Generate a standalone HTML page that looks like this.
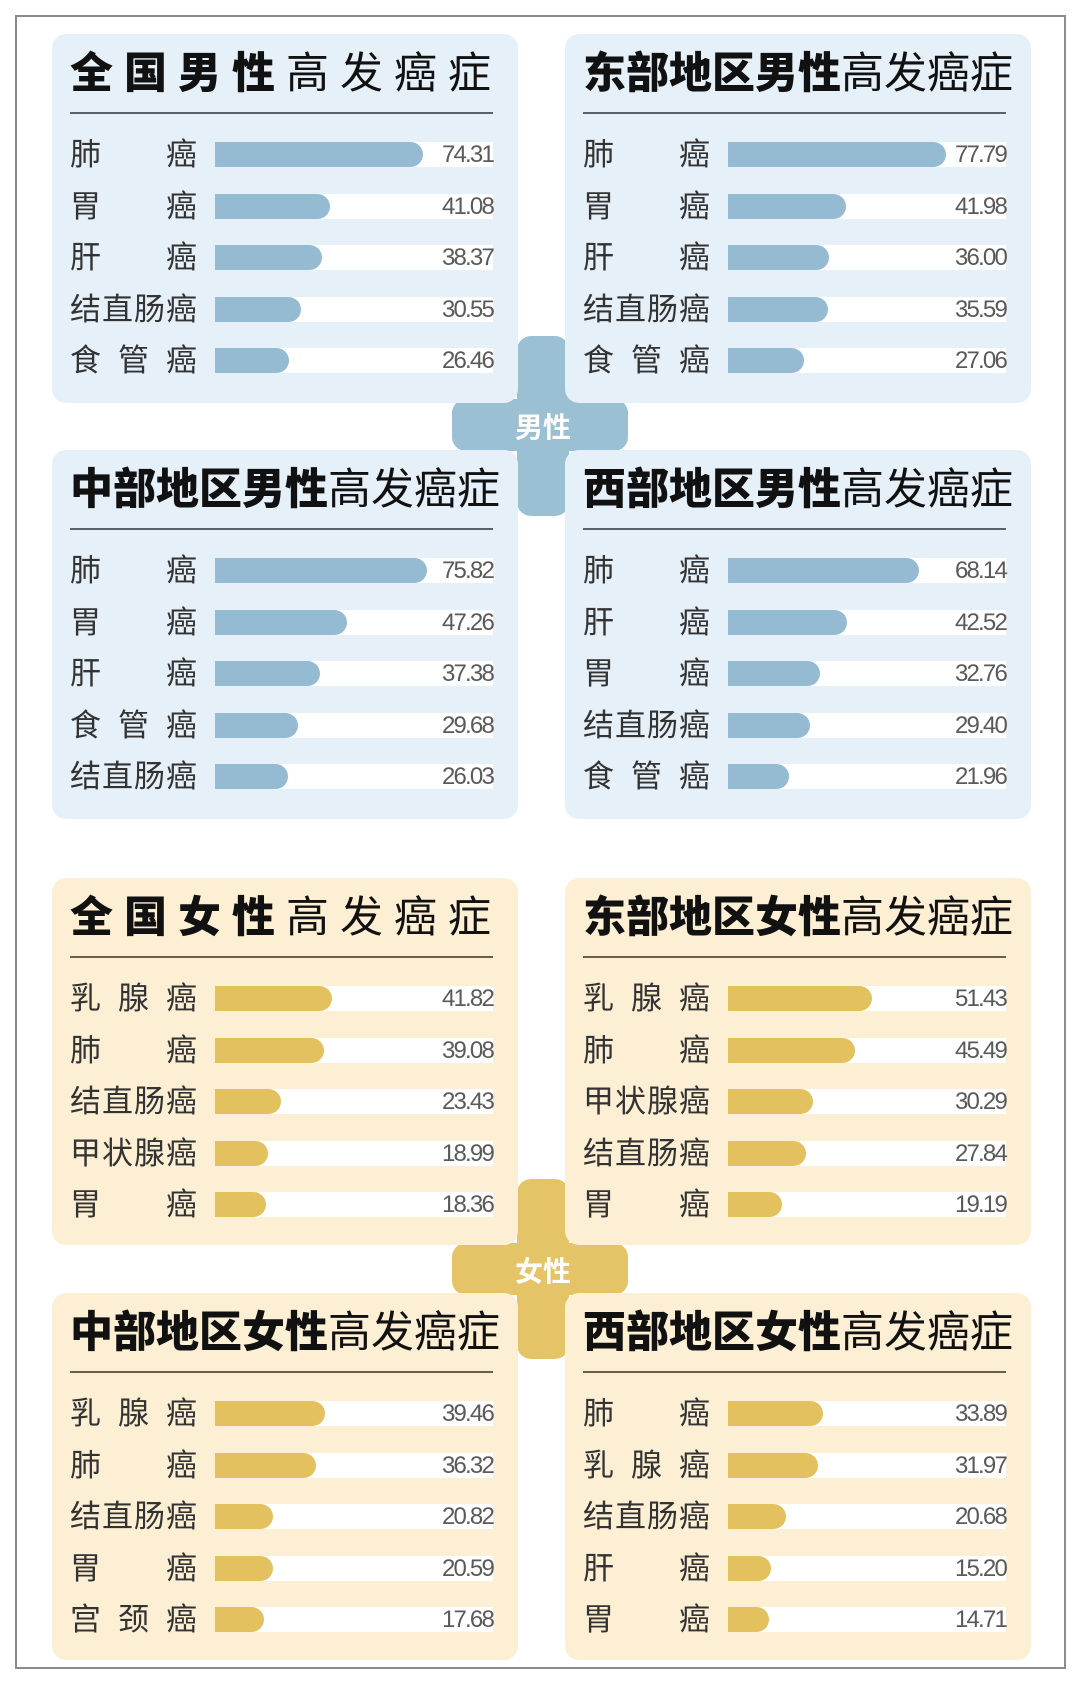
<!DOCTYPE html>
<html><head><meta charset="utf-8"><style>
*{margin:0;padding:0;box-sizing:border-box}
body{width:1080px;height:1686px;background:#fff;position:relative;overflow:hidden;font-family:"Liberation Sans","Noto Sans CJK SC",sans-serif}
.frame{position:absolute;left:15px;top:15px;width:1051px;height:1654px;border:2px solid #8c8c8c}
.p{position:absolute;width:466px;border-radius:14px}
.m{background:#e5f0f8}.f{background:#fcefd4}
.t{position:absolute;left:18px;top:15px;height:50px;line-height:50px;font-size:43px;color:#111;white-space:nowrap}
.t b{font-weight:900}
.t span{font-weight:400}
.ln{position:absolute;left:18px;top:78px;width:423px;height:2px;background:#56636c}
.f .ln{background:#6a604a}
.rows{position:absolute;left:18px;top:95px;width:430px}
.r{height:51.5px;position:relative}
.lb{position:absolute;left:0;top:9px;width:127px;display:flex;justify-content:space-between;font-size:31px;line-height:34px;color:#333}
.lb i{font-style:normal}
.tr{position:absolute;left:145px;top:13px;width:278px;height:25px;background:#fff}
.fl{position:absolute;left:0;top:0;height:25px;border-radius:0 13px 13px 0}
.m .fl{background:#94bbd1}.f .fl{background:#e4c15f}
.v{position:absolute;right:0;top:0;line-height:25px;font-size:24px;color:#5a5a5a;letter-spacing:-1.8px}
.cx{position:absolute;border-radius:14px}
.cl{position:absolute;color:#fff;font-size:28px;font-weight:bold;width:100px;text-align:center}
</style></head><body>
<div class="frame"></div>

<div class="cx" style="left:517px;top:336px;width:52px;height:180px;background:#9bbfd3"></div>
<div class="cx" style="left:452px;top:399px;width:176px;height:52px;background:#9bbfd3"></div>
<div class="cl" style="left:493px;top:406px">男性</div>
<div class="cx" style="left:517px;top:1179px;width:52px;height:180px;background:#e4c466"></div>
<div class="cx" style="left:452px;top:1243px;width:176px;height:52px;background:#e4c466"></div>
<div class="cl" style="left:493px;top:1250px">女性</div>

<div class="p m" style="left:52px;top:34px;height:369px">
<div class="t" style="letter-spacing:11px"><b>全国男性</b><span>高发癌症</span></div><div class="ln"></div>
<div class="rows">
<div class="r"><div class="lb"><i>肺</i><i>癌</i></div><div class="tr"><div class="fl" style="width:208px"></div><div class="v">74.31</div></div></div>
<div class="r"><div class="lb"><i>胃</i><i>癌</i></div><div class="tr"><div class="fl" style="width:115px"></div><div class="v">41.08</div></div></div>
<div class="r"><div class="lb"><i>肝</i><i>癌</i></div><div class="tr"><div class="fl" style="width:107px"></div><div class="v">38.37</div></div></div>
<div class="r"><div class="lb"><i>结</i><i>直</i><i>肠</i><i>癌</i></div><div class="tr"><div class="fl" style="width:86px"></div><div class="v">30.55</div></div></div>
<div class="r"><div class="lb"><i>食</i><i>管</i><i>癌</i></div><div class="tr"><div class="fl" style="width:74px"></div><div class="v">26.46</div></div></div>
</div></div>

<div class="p m" style="left:565px;top:34px;height:369px">
<div class="t"><b>东部地区男性</b><span>高发癌症</span></div><div class="ln"></div>
<div class="rows">
<div class="r"><div class="lb"><i>肺</i><i>癌</i></div><div class="tr"><div class="fl" style="width:218px"></div><div class="v">77.79</div></div></div>
<div class="r"><div class="lb"><i>胃</i><i>癌</i></div><div class="tr"><div class="fl" style="width:118px"></div><div class="v">41.98</div></div></div>
<div class="r"><div class="lb"><i>肝</i><i>癌</i></div><div class="tr"><div class="fl" style="width:101px"></div><div class="v">36.00</div></div></div>
<div class="r"><div class="lb"><i>结</i><i>直</i><i>肠</i><i>癌</i></div><div class="tr"><div class="fl" style="width:100px"></div><div class="v">35.59</div></div></div>
<div class="r"><div class="lb"><i>食</i><i>管</i><i>癌</i></div><div class="tr"><div class="fl" style="width:76px"></div><div class="v">27.06</div></div></div>
</div></div>

<div class="p m" style="left:52px;top:450px;height:369px">
<div class="t"><b>中部地区男性</b><span>高发癌症</span></div><div class="ln"></div>
<div class="rows">
<div class="r"><div class="lb"><i>肺</i><i>癌</i></div><div class="tr"><div class="fl" style="width:212px"></div><div class="v">75.82</div></div></div>
<div class="r"><div class="lb"><i>胃</i><i>癌</i></div><div class="tr"><div class="fl" style="width:132px"></div><div class="v">47.26</div></div></div>
<div class="r"><div class="lb"><i>肝</i><i>癌</i></div><div class="tr"><div class="fl" style="width:105px"></div><div class="v">37.38</div></div></div>
<div class="r"><div class="lb"><i>食</i><i>管</i><i>癌</i></div><div class="tr"><div class="fl" style="width:83px"></div><div class="v">29.68</div></div></div>
<div class="r"><div class="lb"><i>结</i><i>直</i><i>肠</i><i>癌</i></div><div class="tr"><div class="fl" style="width:73px"></div><div class="v">26.03</div></div></div>
</div></div>

<div class="p m" style="left:565px;top:450px;height:369px">
<div class="t"><b>西部地区男性</b><span>高发癌症</span></div><div class="ln"></div>
<div class="rows">
<div class="r"><div class="lb"><i>肺</i><i>癌</i></div><div class="tr"><div class="fl" style="width:191px"></div><div class="v">68.14</div></div></div>
<div class="r"><div class="lb"><i>肝</i><i>癌</i></div><div class="tr"><div class="fl" style="width:119px"></div><div class="v">42.52</div></div></div>
<div class="r"><div class="lb"><i>胃</i><i>癌</i></div><div class="tr"><div class="fl" style="width:92px"></div><div class="v">32.76</div></div></div>
<div class="r"><div class="lb"><i>结</i><i>直</i><i>肠</i><i>癌</i></div><div class="tr"><div class="fl" style="width:82px"></div><div class="v">29.40</div></div></div>
<div class="r"><div class="lb"><i>食</i><i>管</i><i>癌</i></div><div class="tr"><div class="fl" style="width:61px"></div><div class="v">21.96</div></div></div>
</div></div>

<div class="p f" style="left:52px;top:878px;height:367px">
<div class="t" style="letter-spacing:11px"><b>全国女性</b><span>高发癌症</span></div><div class="ln"></div>
<div class="rows">
<div class="r"><div class="lb"><i>乳</i><i>腺</i><i>癌</i></div><div class="tr"><div class="fl" style="width:117px"></div><div class="v">41.82</div></div></div>
<div class="r"><div class="lb"><i>肺</i><i>癌</i></div><div class="tr"><div class="fl" style="width:109px"></div><div class="v">39.08</div></div></div>
<div class="r"><div class="lb"><i>结</i><i>直</i><i>肠</i><i>癌</i></div><div class="tr"><div class="fl" style="width:66px"></div><div class="v">23.43</div></div></div>
<div class="r"><div class="lb"><i>甲</i><i>状</i><i>腺</i><i>癌</i></div><div class="tr"><div class="fl" style="width:53px"></div><div class="v">18.99</div></div></div>
<div class="r"><div class="lb"><i>胃</i><i>癌</i></div><div class="tr"><div class="fl" style="width:51px"></div><div class="v">18.36</div></div></div>
</div></div>

<div class="p f" style="left:565px;top:878px;height:367px">
<div class="t"><b>东部地区女性</b><span>高发癌症</span></div><div class="ln"></div>
<div class="rows">
<div class="r"><div class="lb"><i>乳</i><i>腺</i><i>癌</i></div><div class="tr"><div class="fl" style="width:144px"></div><div class="v">51.43</div></div></div>
<div class="r"><div class="lb"><i>肺</i><i>癌</i></div><div class="tr"><div class="fl" style="width:127px"></div><div class="v">45.49</div></div></div>
<div class="r"><div class="lb"><i>甲</i><i>状</i><i>腺</i><i>癌</i></div><div class="tr"><div class="fl" style="width:85px"></div><div class="v">30.29</div></div></div>
<div class="r"><div class="lb"><i>结</i><i>直</i><i>肠</i><i>癌</i></div><div class="tr"><div class="fl" style="width:78px"></div><div class="v">27.84</div></div></div>
<div class="r"><div class="lb"><i>胃</i><i>癌</i></div><div class="tr"><div class="fl" style="width:54px"></div><div class="v">19.19</div></div></div>
</div></div>

<div class="p f" style="left:52px;top:1293px;height:367px">
<div class="t"><b>中部地区女性</b><span>高发癌症</span></div><div class="ln"></div>
<div class="rows">
<div class="r"><div class="lb"><i>乳</i><i>腺</i><i>癌</i></div><div class="tr"><div class="fl" style="width:110px"></div><div class="v">39.46</div></div></div>
<div class="r"><div class="lb"><i>肺</i><i>癌</i></div><div class="tr"><div class="fl" style="width:101px"></div><div class="v">36.32</div></div></div>
<div class="r"><div class="lb"><i>结</i><i>直</i><i>肠</i><i>癌</i></div><div class="tr"><div class="fl" style="width:58px"></div><div class="v">20.82</div></div></div>
<div class="r"><div class="lb"><i>胃</i><i>癌</i></div><div class="tr"><div class="fl" style="width:58px"></div><div class="v">20.59</div></div></div>
<div class="r"><div class="lb"><i>宫</i><i>颈</i><i>癌</i></div><div class="tr"><div class="fl" style="width:49px"></div><div class="v">17.68</div></div></div>
</div></div>

<div class="p f" style="left:565px;top:1293px;height:367px">
<div class="t"><b>西部地区女性</b><span>高发癌症</span></div><div class="ln"></div>
<div class="rows">
<div class="r"><div class="lb"><i>肺</i><i>癌</i></div><div class="tr"><div class="fl" style="width:95px"></div><div class="v">33.89</div></div></div>
<div class="r"><div class="lb"><i>乳</i><i>腺</i><i>癌</i></div><div class="tr"><div class="fl" style="width:90px"></div><div class="v">31.97</div></div></div>
<div class="r"><div class="lb"><i>结</i><i>直</i><i>肠</i><i>癌</i></div><div class="tr"><div class="fl" style="width:58px"></div><div class="v">20.68</div></div></div>
<div class="r"><div class="lb"><i>肝</i><i>癌</i></div><div class="tr"><div class="fl" style="width:43px"></div><div class="v">15.20</div></div></div>
<div class="r"><div class="lb"><i>胃</i><i>癌</i></div><div class="tr"><div class="fl" style="width:41px"></div><div class="v">14.71</div></div></div>
</div></div>
</body></html>
